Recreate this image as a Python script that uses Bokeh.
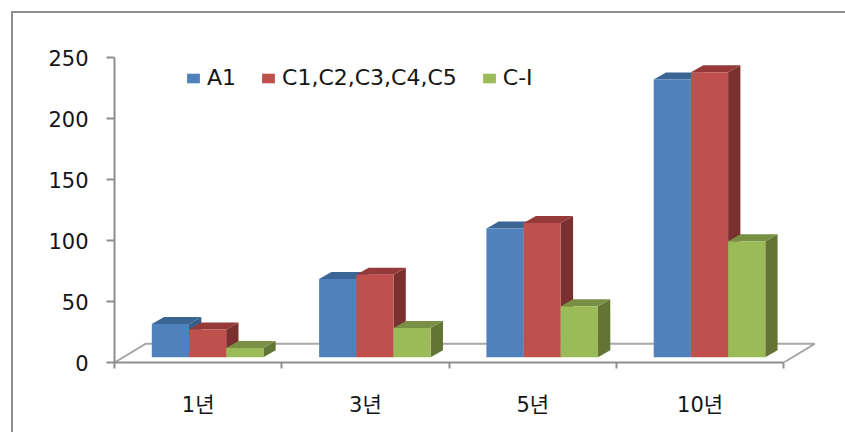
from bokeh.plotting import figure
from bokeh.models import FixedTicker, Legend, LegendItem, LinearAxis, Range1d
from bokeh.embed import file_html
from bokeh.resources import INLINE

categories = ["1년", "3년", "5년", "10년"]
series_names = ["A1", "C1,C2,C3,C4,C5", "C-I"]
a1_values = [27.3, 64.2, 105.5, 227.6]
c_values = [22.7, 67.5, 110.0, 233.6]
ci_values = [7.6, 24.0, 41.8, 95.1]
y_ticks = [0, 50, 100, 150, 200, 250]

front_colors = ["#4F81BD", "#C0504D", "#9BBB59"]
top_colors = ["#3A6594", "#953A38", "#779044"]
side_colors = ["#385D8A", "#7A302E", "#637535"]
AXIS = "#8E8E8E"
FONT = "DejaVu Sans, Noto Sans CJK KR"
TEXT = "#151515"
SIZE = "21px"

# pixels per data unit of the frame, used to express the 3D depth in data units
PX_X = 167.3
PX_Y = 1.22
bar_w = 0.2223
bar_start = 0.223
base = 5.3 / PX_Y
dx, dy = 12.3 / PX_X, 7.0 / PX_Y
floor_dx, floor_dy = 31.0 / PX_X, 18.7 / PX_Y

p = figure(width=834, height=421, output_backend="svg", toolbar_location=None,
           frame_width=715, frame_height=343,
           x_range=Range1d(0, 715 / PX_X), y_range=Range1d(0, 343 / PX_Y),
           x_axis_type=None, y_axis_type=None,
           min_border_left=101, min_border_right=18, min_border_top=6, min_border_bottom=72,
           margin=(11, 0, 0, 11),
           styles={"border-left": f"2px solid {AXIS}", "border-top": f"2px solid {AXIS}"})
p.outline_line_color = None
p.grid.visible = False
p.background_fill_color = "white"

n = len(categories)
# floor of the 3D box
p.line([0, floor_dx, n + floor_dx, n], [0, floor_dy, floor_dy, 0],
       line_color="#A8A8A8", line_width=2)

items = []
for s, (name, vals) in enumerate(zip(series_names, [a1_values, c_values, ci_values])):
    lefts = [i + bar_start + s * bar_w for i in range(n)]
    rights = [l + bar_w for l in lefts]
    tops = [base + v for v in vals]
    p.patches([[r, r + dx, r + dx, r] for r in rights],
              [[base, base + dy, t + dy, t] for t in tops],
              fill_color=side_colors[s], line_color=None)
    p.patches([[l, l + dx, r + dx, r] for l, r in zip(lefts, rights)],
              [[t, t + dy, t + dy, t] for t in tops],
              fill_color=top_colors[s], line_color=None)
    r = p.quad(left=lefts, right=rights, bottom=[base] * n, top=tops,
               fill_color=front_colors[s], line_color=None)
    items.append(LegendItem(label=name, renderers=[r]))

yaxis = LinearAxis(ticker=FixedTicker(ticks=y_ticks), bounds=(0, 250))
yaxis.axis_line_color = AXIS
yaxis.axis_line_width = 2
yaxis.major_tick_line_color = AXIS
yaxis.major_tick_line_width = 2
yaxis.major_tick_out = 8
yaxis.major_tick_in = 0
yaxis.minor_tick_line_color = None
yaxis.major_label_standoff = 18
yaxis.major_label_text_font = FONT
yaxis.major_label_text_font_size = SIZE
yaxis.major_label_text_color = TEXT
p.add_layout(yaxis, "left")

centers = [i + 0.5 for i in range(n)]
xaxis = LinearAxis(ticker=FixedTicker(ticks=centers, minor_ticks=list(range(n + 1))),
                   bounds=(0, n))
xaxis.major_label_overrides = {c: label for c, label in zip(centers, categories)}
xaxis.axis_line_color = AXIS
xaxis.axis_line_width = 2
xaxis.major_tick_line_color = None
xaxis.major_tick_out = 0
xaxis.major_tick_in = 0
xaxis.minor_tick_line_color = AXIS
xaxis.minor_tick_line_width = 2
xaxis.minor_tick_out = 6
xaxis.minor_tick_in = 0
xaxis.major_label_standoff = 24
xaxis.major_label_text_font = FONT
xaxis.major_label_text_font_size = SIZE
xaxis.major_label_text_color = TEXT
p.add_layout(xaxis, "below")

legend = Legend(items=items, orientation="horizontal", location=(71, 272),
                background_fill_alpha=0, border_line_color=None,
                padding=0, margin=0, spacing=24, label_standoff=6,
                glyph_width=16, glyph_height=12,
                label_text_font=FONT, label_text_font_size="22px", label_text_color=TEXT)
p.add_layout(legend, "center")

open("out.html", "w").write(file_html(p, INLINE))
